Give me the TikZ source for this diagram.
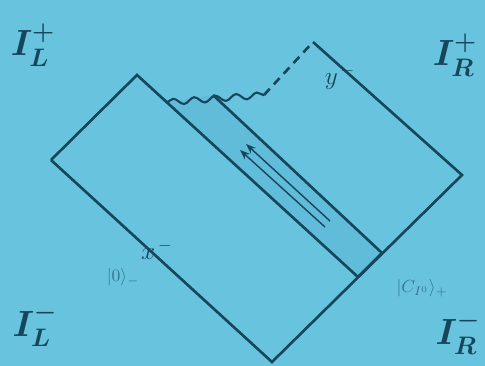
\documentclass[tikz,border=0pt]{standalone}
\usepackage{amsmath}
\usetikzlibrary{decorations.pathmorphing,calc,arrows.meta}
\definecolor{slide}{RGB}{104,196,222}
\definecolor{stripblue}{RGB}{96,188,216}
\definecolor{ink}{RGB}{22,70,92}
\definecolor{faint}{RGB}{55,115,145}
\tikzset{
  boundary/.style={ink, line width=1.5pt, line join=miter},
  wavyline/.style={ink, line width=1.2pt, decorate, decoration={snake, segment length=4.2mm, amplitude=0.6mm}},
  dashline/.style={ink, line width=1.5pt, dash pattern=on 1.7mm off 1.2mm},
  flowarrow/.style={ink, line width=0.8pt, -{Stealth[length=2mm,width=1.5mm]}},
  scri/.style={ink, font=\huge\boldmath},
  ketlabel/.style={faint, font=\normalsize},
  edgelabel/.style={ink, font=\Large}
}

\begin{document}
\begin{tikzpicture}[x=0.02cm, y=-0.02cm]
  \fill[slide] (0,0) rectangle (485,366);
  \useasboundingbox (0,0) rectangle (485,366);

  \coordinate (lt) at (137,75);
  \coordinate (ll) at (51,160);
  \coordinate (bot) at (272,362);
  \coordinate (sb) at (358,277);
  \coordinate (sr) at (382,253);
  \coordinate (rc) at (462,175);
  \coordinate (rt) at (313,42);
  \coordinate (st) at (213,95);
  \coordinate (ws) at ($(lt)!0.135!(sb)$);
  \coordinate (we) at (264,95);
  \coordinate (a1s) at (330,221);
  \coordinate (a1e) at (246,144);
  \coordinate (a2s) at (325,227);
  \coordinate (a2e) at (240,150);

  \fill[stripblue] (ws) -- (st) -- (sr) -- (sb) -- cycle;

  \draw[boundary] (ll) -- (lt) -- (sb);
  \draw[boundary] (ll) -- (bot) -- (rc) -- (rt);
  \draw[boundary] (st) -- (sr);
  \draw[boundary] (sb) -- (sr);
  \draw[wavyline] (ws) -- (we);
  \draw[dashline] (we) -- (rt);

  \draw[flowarrow] (a1s) -- (a1e);
  \draw[flowarrow] (a2s) -- (a2e);

  \node[scri] (iLp) at (33,45) {$I^{+}_{L}$};
  \node[scri] (iRp) at (455,55) {$I^{+}_{R}$};
  \node[scri] (iLm) at (35,325) {$I^{-}_{L}$};
  \node[scri] (iRm) at (458,333) {$I^{-}_{R}$};

  \node[edgelabel] (ym) at (340,77) {$y^{\,-}$};
  \node[edgelabel] (xm) at (157,250) {$x^{\,-}$};
  \node[ketlabel] (vac) at (123,277) {$|0\rangle_{-}$};
  \node[ketlabel] (coh) at (422,288) {$|C_{I^0}\rangle_{+}$};
\end{tikzpicture}
\end{document}
